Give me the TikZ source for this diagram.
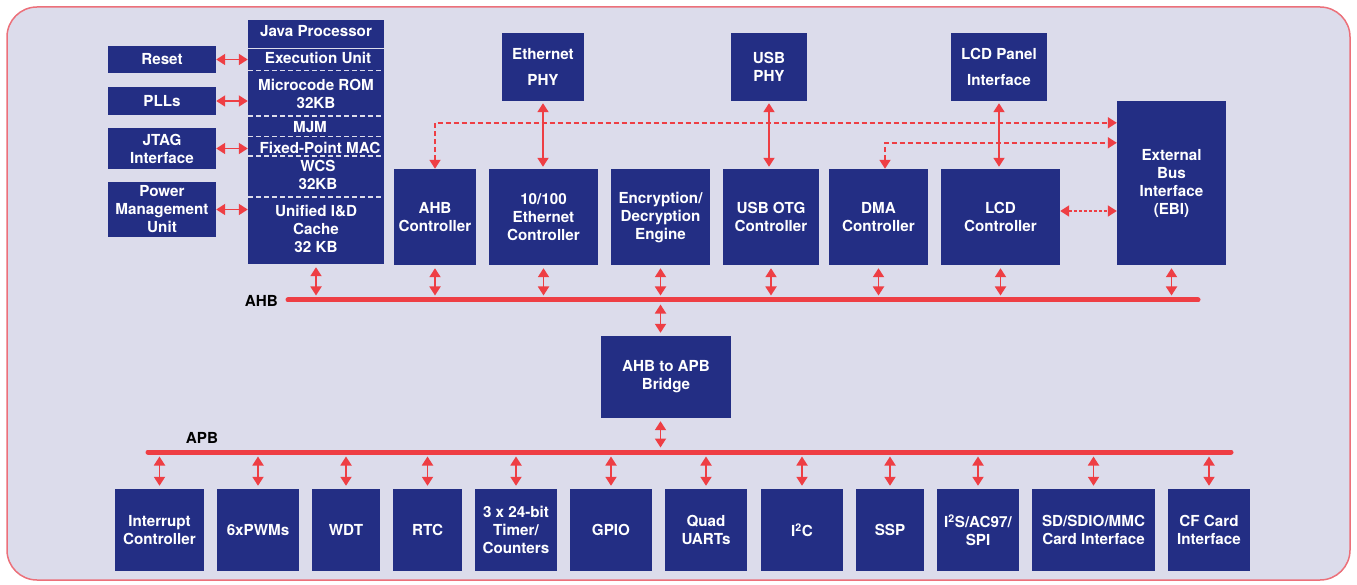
\documentclass[tikz,border=0pt]{standalone}
\usepackage{fontspec}
\setmainfont{TeX Gyre Heros}
\usepackage{tikz}
\usetikzlibrary{arrows.meta}
\usetikzlibrary{positioning}
\usetikzlibrary{calc}

\definecolor{socnavy}{RGB}{35,46,132}
\definecolor{socred}{RGB}{238,62,68}
\definecolor{socback}{RGB}{220,220,235}
\definecolor{socframe}{RGB}{236,112,122}

\newcommand{\mytikzfontsize}{\fontsize{15.2}{18}\selectfont\bfseries}
\newcommand{\blocknode}[1][]{\node[socblock,#1]}
\tikzstyle{socblock}=[
    fill=socnavy,
    text=white,
    align=center,
    inner sep=0pt
]
\tikzstyle{sectiontext}=[
    text=white,
    align=center,
    inner sep=0pt
]
\tikzstyle{twoway}=[
    <->,
    socred,
    line width=1.8pt,
    shorten <=2pt,
    shorten >=2pt
]
\tikzstyle{tobus}=[
    twoway,
    shorten <=3pt,
    shorten >=4.5pt
]
\tikzstyle{busline}=[
    socred,
    line width=5pt,
    line cap=round
]
\tikzstyle{sectionline}=[
    socback,
    line width=1.2pt,
    dash pattern=on 5pt off 3pt
]
\tikzstyle{mytikzsocoptions}=[
    x=1pt,
    y=-1pt,
    >={Triangle[length=9pt,width=11pt]},
    font=\mytikzfontsize
]

\begin{document}
\begin{tikzpicture}[mytikzsocoptions]

    % frame
    \useasboundingbox (0,0) rectangle (1357,585);
    \draw[socframe,fill=socback,line width=1.5pt,rounded corners=30pt] (7,7) rectangle (1350,580);

    % left column
    \blocknode[minimum width=108pt,minimum height=27pt] (reset) at (162,59.5) {Reset};
    \blocknode[minimum width=108pt,minimum height=28pt] (plls) at (162,101) {PLLs};
    \blocknode[minimum width=108pt,minimum height=41pt] (jtag) at (162,148.5) {JTAG\\Interface};
    \blocknode[minimum width=108pt,minimum height=55pt] (pmu) at (162,209.5) {Power\\Management\\Unit};

    % java processor
    \blocknode[minimum width=136pt,minimum height=244pt] (java) at (316,142) {};
    \draw[socback,line width=1.5pt] (248,48.5) -- (384,48.5);
    \draw[sectionline] (248,70.5) -- (384,70.5);
    \draw[sectionline] (248,116) -- (384,116);
    \draw[sectionline] (248,136.5) -- (384,136.5);
    \draw[sectionline] (248,156) -- (384,156);
    \draw[sectionline] (248,197) -- (384,197);
    \node[sectiontext] (jhead) at (316,31) {Java Processor};
    \node[sectiontext] (jexec) at (318,58) {Execution Unit};
    \node[sectiontext] (jrom) at (316,94) {Microcode ROM\\32KB};
    \node[sectiontext] (jmjm) at (310,127) {MJM};
    \node[sectiontext] (jmac) at (320,148) {Fixed-Point MAC};
    \node[sectiontext] (jwcs) at (318,175) {WCS\\32KB};
    \node[sectiontext] (jcache) at (316,229) {Unified I\&D\\Cache\\32 KB};

    % top row
    \blocknode[minimum width=82pt,minimum height=68pt] (ephy) at (543,67) {Ethernet\\[8pt]PHY};
    \blocknode[minimum width=76pt,minimum height=68pt] (uphy) at (769,67) {USB\\PHY};
    \blocknode[minimum width=96pt,minimum height=68pt] (lcdp) at (999,67) {LCD Panel\\[8pt]Interface};

    % middle row
    \blocknode[minimum width=82pt,minimum height=96pt] (ahbc) at (435,217) {AHB\\Controller};
    \blocknode[minimum width=109pt,minimum height=96pt] (ethc) at (543.5,217) {10/100\\Ethernet\\Controller};
    \blocknode[minimum width=99pt,minimum height=96pt] (enc) at (660.5,217) {Encryption/\\Decryption\\Engine};
    \blocknode[minimum width=96pt,minimum height=96pt] (usbc) at (771,217) {USB OTG\\Controller};
    \blocknode[minimum width=99pt,minimum height=96pt] (dmac) at (878.5,217) {DMA\\Controller};
    \blocknode[minimum width=119pt,minimum height=96pt] (lcdc) at (1000.5,217) {LCD\\Controller};
    \blocknode[minimum width=109pt,minimum height=164pt] (ebi) at (1171.5,183) {External\\Bus\\Interface\\(EBI)};

    % bridge
    \blocknode[minimum width=130pt,minimum height=82pt] (bridge) at (666,377) {AHB to APB\\Bridge};

    % bottom row
    \blocknode[minimum width=89pt,minimum height=82pt] (intc) at (159.5,530) {Interrupt\\Controller};
    \blocknode[minimum width=82pt,minimum height=82pt] (pwm) at (258,530) {6xPWMs};
    \blocknode[minimum width=68pt,minimum height=82pt] (wdt) at (346,530) {WDT};
    \blocknode[minimum width=69pt,minimum height=82pt] (rtc) at (427.5,530) {RTC};
    \blocknode[minimum width=82pt,minimum height=82pt] (tmr) at (516,530) {3 x 24-bit\\Timer/\\Counters};
    \blocknode[minimum width=82pt,minimum height=82pt] (gpio) at (611,530) {GPIO};
    \blocknode[minimum width=82pt,minimum height=82pt] (uart) at (706,530) {Quad\\UARTs};
    \blocknode[minimum width=82pt,minimum height=82pt] (iic) at (802,530) {I\textsuperscript{2}C};
    \blocknode[minimum width=68pt,minimum height=82pt] (ssp) at (890,530) {SSP};
    \blocknode[minimum width=82pt,minimum height=82pt] (iis) at (978,530) {I\textsuperscript{2}S/AC97/\\SPI};
    \blocknode[minimum width=123pt,minimum height=82pt] (sd) at (1093.5,530) {SD/SDIO/MMC\\Card Interface};
    \blocknode[minimum width=82pt,minimum height=82pt] (cf) at (1209,530) {CF Card\\Interface};

    % buses
    \coordinate (ahbleft) at (288,300);
    \coordinate (ahbright) at (1198,300);
    \coordinate (apbleft) at (148,452);
    \coordinate (apbright) at (1231,452);
    \draw[busline] (ahbleft) -- (ahbright);
    \draw[busline] (apbleft) -- (apbright);
    \node[anchor=east,inner sep=0pt] (ahblabel) at (278,301) {AHB};
    \node[inner sep=0pt] (apblabel) at (202,438) {APB};

    % edges
    \draw[twoway,shorten <=0pt,shorten >=0pt] (reset.east) -- (reset.east -| java.west);
    \draw[twoway,shorten <=0pt,shorten >=0pt] (plls.east) -- (plls.east -| java.west);
    \draw[twoway,shorten <=0pt,shorten >=0pt] (jtag.east) -- (jtag.east -| java.west);
    \draw[twoway,shorten <=0pt,shorten >=0pt] (pmu.east) -- (pmu.east -| java.west);

    \draw[twoway] (ephy.south) -- (ephy.south |- ethc.north);
    \draw[twoway] (uphy.south) -- (uphy.south |- usbc.north);
    \draw[twoway] (lcdp.south) -- (lcdp.south |- lcdc.north);

    \draw[twoway,dash pattern=on 5pt off 3pt,shorten <=0pt,shorten >=0pt] (ahbc.north) |- ([yshift=-22pt]ebi.north west);
    \draw[twoway,dash pattern=on 5pt off 3pt,shorten <=0pt,shorten >=0pt] ([xshift=6.5pt]dmac.north) |- ([yshift=-42pt]ebi.north west);
    \draw[twoway,dash pattern=on 3pt off 2pt,shorten <=0pt,shorten >=0pt] ([yshift=6pt]lcdc.east) -- ([yshift=6pt]lcdc.east -| ebi.west);

    \draw[tobus] (java.south) -- (java.south |- ahbleft);
    \draw[tobus] (ahbc.south) -- (ahbc.south |- ahbleft);
    \draw[tobus] (ethc.south) -- (ethc.south |- ahbleft);
    \draw[tobus] (enc.south) -- (enc.south |- ahbleft);
    \draw[tobus] (usbc.south) -- (usbc.south |- ahbleft);
    \draw[tobus] (dmac.south) -- (dmac.south |- ahbleft);
    \draw[tobus] (lcdc.south) -- (lcdc.south |- ahbleft);
    \draw[tobus] (ebi.south) -- (ebi.south |- ahbleft);

    \draw[tobus] (enc.south |- bridge.north) -- (enc.south |- ahbleft);
    \draw[tobus] (enc.south |- bridge.south) -- (enc.south |- apbleft);

    \draw[tobus] (intc.north) -- (intc.north |- apbleft);
    \draw[tobus] (pwm.north) -- (pwm.north |- apbleft);
    \draw[tobus] (wdt.north) -- (wdt.north |- apbleft);
    \draw[tobus] (rtc.north) -- (rtc.north |- apbleft);
    \draw[tobus] (tmr.north) -- (tmr.north |- apbleft);
    \draw[tobus] (gpio.north) -- (gpio.north |- apbleft);
    \draw[tobus] (uart.north) -- (uart.north |- apbleft);
    \draw[tobus] (iic.north) -- (iic.north |- apbleft);
    \draw[tobus] (ssp.north) -- (ssp.north |- apbleft);
    \draw[tobus] (iis.north) -- (iis.north |- apbleft);
    \draw[tobus] (sd.north) -- (sd.north |- apbleft);
    \draw[tobus] (cf.north) -- (cf.north |- apbleft);
\end{tikzpicture}
\end{document}
